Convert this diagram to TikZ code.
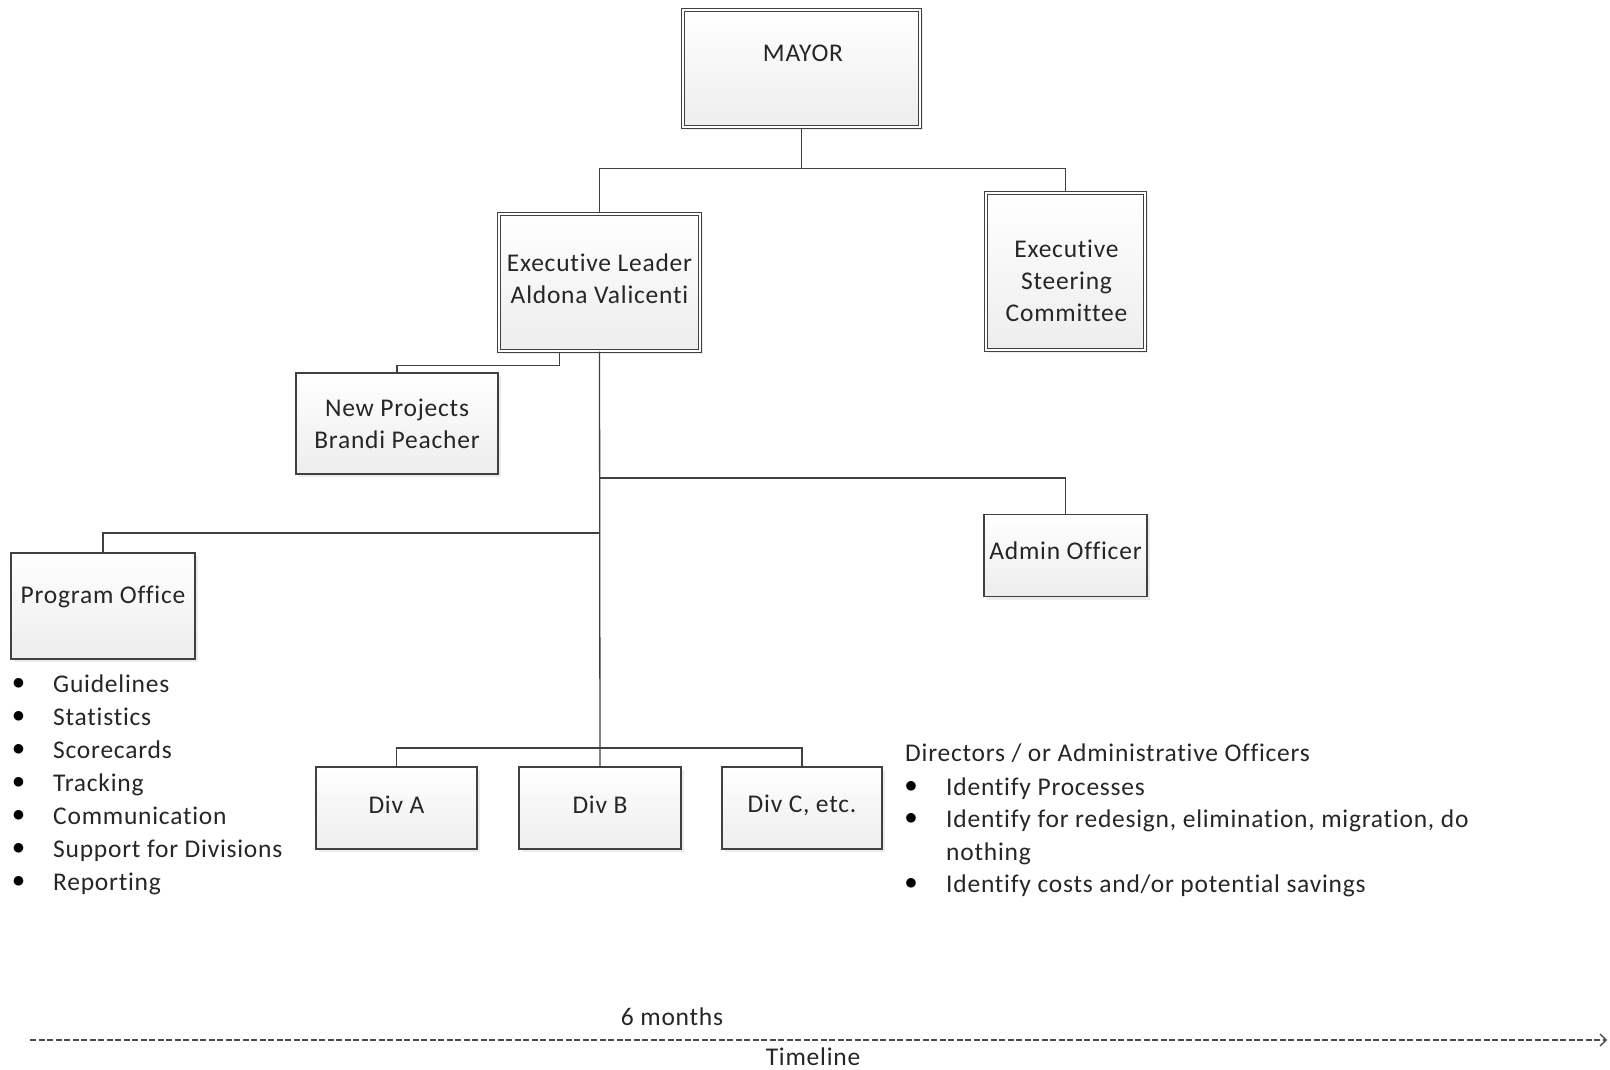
\documentclass[tikz,border=0pt]{standalone}
\usepackage{fontspec}
\setmainfont{Carlito}[Ligatures=NoCommon, LetterSpace=3]
\usetikzlibrary{arrows.meta,shadows}

\tikzset{
  orgbox/.style={draw=black!75, line width=1.3pt, inner sep=0pt,
    top color=white, bottom color=black!7,
    drop shadow={opacity=0.15, shadow xshift=3pt, shadow yshift=-3pt}},
  dblbox/.style={orgbox, double=white, double distance=2.4pt, line width=1.1pt},
  boxtext/.style={font=\fontsize{25.5}{32}\selectfont, text=black!85, align=center, inner sep=0pt},
  listtext/.style={font=\fontsize{25.5}{32}\selectfont, text=black!85, inner sep=0pt, anchor=base west},
  dot/.style={font=\fontsize{25}{32}\selectfont, text=black, inner sep=0pt},
  link/.style={draw=black!75, line width=1.3pt},
  timeline/.style={draw=black!70, line width=1.3pt, dash pattern=on 6pt off 2.5pt,
    -{Straight Barb[length=6pt, width=12pt, line width=1.3pt]}}
}

\begin{document}
\begin{tikzpicture}[x=1pt, y=-1pt]
\useasboundingbox (0,0) rectangle (1610,1069);

% Boxes
\node [dblbox, minimum width=237, minimum height=117] (mayor) at (801.5,68.5) {};
\node [dblbox, minimum width=201, minimum height=137] (exec) at (599.5,282.5) {};
\node [dblbox, minimum width=159, minimum height=157] (steer) at (1065.5,271.5) {};
\node [orgbox, minimum width=202, minimum height=101] (newproj) at (397,423.5) {};
\node [orgbox, minimum width=163, minimum height=82] (admin) at (1065.5,555.5) {};
\node [orgbox, minimum width=184, minimum height=106] (prog) at (103,606) {};
\node [orgbox, minimum width=161, minimum height=82] (diva) at (396.5,808) {};
\node [orgbox, minimum width=162, minimum height=82] (divb) at (600,808) {};
\node [orgbox, minimum width=160, minimum height=82] (divc) at (802,808) {};

% Box texts
\node [boxtext] (mayortext) at (803,53) {MAYOR};
\node [boxtext] (exectext) at (599.5,279) {Executive Leader\\Aldona Valicenti};
\node [boxtext] (steertext) at (1066.5,280.5) {Executive\\Steering\\Committee};
\node [boxtext] (newprojtext) at (397,424) {New Projects\\Brandi Peacher};
\node [boxtext] (admintext) at (1065.5,551) {Admin Officer};
\node [boxtext] (progtext) at (103,597) {Program Office};
\node [boxtext] (divatext) at (396.5,805) {Div A};
\node [boxtext] (divbtext) at (600,805) {Div B};
\node [boxtext] (divctext) at (802,805) {Div C, etc.};

% Junctions on the trunk
\coordinate (jadmin) at (599.5,478);
\coordinate (jprog) at (599.5,533);
\coordinate (jdiv) at (599.5,748);

% Connectors
\draw [link] (mayor.south) -- ++(0,41) coordinate (jtop) -| (exec.north);
\draw [link] (jtop) -| (steer.north);
\draw [link] ([xshift=-40pt]exec.south) -- ++(0,14) -| (newproj.north);
\draw [link] (exec.south) -- (divb.north);
\draw [link] (jadmin) -| (admin.north);
\draw [link] (jprog) -| (prog.north);
\draw [link] (jdiv) -| (diva.north);
\draw [link] (jdiv) -| (divc.north);

% Program Office list
\foreach \entry [count=\i from 0] in {Guidelines, Statistics, Scorecards, Tracking,
    Communication, Support for Divisions, Reporting} {
  \node [dot] (progdot-\i) at (18.5,684+33*\i) {$\bullet$};
  \node [listtext] (progitem-\i) at (53,692+33*\i) {\entry};
}

% Directors list
\node [listtext] (dirhead) at (905,761) {Directors / or Administrative Officers};
\node [dot] (dirdot-1) at (911,787) {$\bullet$};
\node [dot] (dirdot-2) at (911,819) {$\bullet$};
\node [dot] (dirdot-3) at (911,884) {$\bullet$};
\node [listtext] (diritem-1) at (946,795) {Identify Processes};
\node [listtext] (diritem-2) at (946,827) {Identify for redesign, elimination, migration, do};
\node [listtext] (diritem-2b) at (946,860) {nothing};
\node [listtext] (diritem-3) at (946,892) {Identify costs and/or potential savings};

% Timeline
\coordinate (tstart) at (30,1040);
\coordinate (tend) at (1607,1040);
\draw [timeline] (tstart) -- (tend);
\node [boxtext] (sixmonths) at (672,1017) {6 months};
\node [boxtext] (tlabel) at (813,1057) {Timeline};

\end{tikzpicture}
\end{document}
